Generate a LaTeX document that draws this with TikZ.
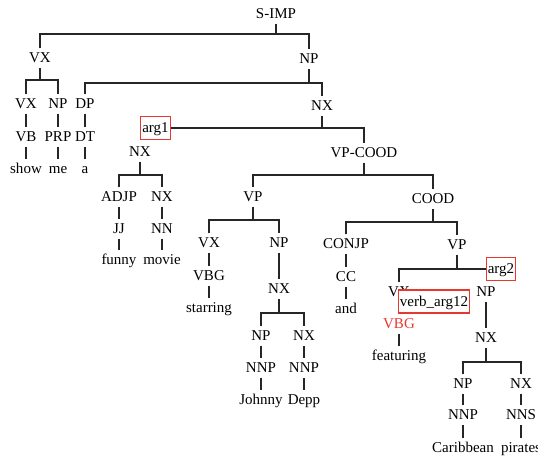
\documentclass[tikz,border=0pt]{standalone}
\usepackage{fontspec}
\setmainfont{Liberation Serif}
\definecolor{rojo}{rgb}{0.91,0.22,0.18}
\tikzset{
  cat/.style={
    inner xsep=1pt,
    inner ysep=3pt,
    text height=11pt,
    text depth=2pt,
    font=\fontsize{15}{18}\selectfont
  },
  marca/.style={
    cat,
    draw=rojo,
    line width=1.1pt,
    fill=white,
    inner xsep=1.5pt,
    minimum height=23pt
  },
  rama/.style={
    line width=1.1pt,
    black!85
  }
}
% padre, hijo izquierdo, hijo derecho, altura de la barra
\newcommand\bifurca[4]{%
  \draw[rama] (#1.south) -- (#1.south |- 0,#4);
  \draw[rama] (#2.north) |- (#3.north |- 0,#4) -- (#3.north);
}

\begin{document}
\begin{tikzpicture}[x=1pt,y=-1pt]
\useasboundingbox (0,0) rectangle (538,462);
% raiz
\node[cat] (simp) at (276,14) {S-IMP};
\node[cat] (vxa) at (40,58) {VX};
\node[cat] (npa) at (309,59) {NP};
% show me a
\node[cat] (vxb) at (26,104) {VX};
\node[cat] (npb) at (58,104) {NP};
\node[cat] (dpa) at (85,104) {DP};
\node[cat] (vb) at (26,137) {VB};
\node[cat] (prp) at (58,137) {PRP};
\node[cat] (dt) at (85,137) {DT};
\node[cat] (show) at (26,169) {show};
\node[cat] (me) at (58,169) {me};
\node[cat] (a) at (85,169) {a};
\node[cat] (nxa) at (322,106) {NX};
% funny movie
\node[cat] (nxb) at (140,152) {NX};
\node[cat] (adjp) at (119,197) {ADJP};
\node[cat] (nxc) at (162,197) {NX};
\node[cat] (jj) at (119,229) {JJ};
\node[cat] (nn) at (162,229) {NN};
\node[cat] (funny) at (119,260) {funny};
\node[cat] (movie) at (162,260) {movie};
% starring Johnny Depp
\node[cat] (vpc) at (364,153) {VP-COOD};
\node[cat] (vpa) at (253,197) {VP};
\node[cat] (cood) at (433,199) {COOD};
\node[cat] (vxd) at (209,243) {VX};
\node[cat] (npc) at (279,243) {NP};
\node[cat] (vbg) at (209,276) {VBG};
\node[cat] (starring) at (209,308) {starring};
\node[cat] (nxd) at (279,289) {NX};
\node[cat] (npd) at (261,336) {NP};
\node[cat] (nxe) at (304,336) {NX};
\node[cat] (nnpa) at (261,368) {NNP};
\node[cat] (nnpb) at (304,368) {NNP};
\node[cat] (johnny) at (261,400) {Johnny};
\node[cat] (depp) at (304,400) {Depp};
% and featuring Caribbean pirates
\node[cat] (conjp) at (346,244) {CONJP};
\node[cat] (cc) at (346,277) {CC};
\node[cat] (and) at (346,309) {and};
\node[cat] (vpb) at (457,245) {VP};
\node[cat] (vxe) at (399,292) {VX};
\node[cat,text=rojo] (vbgb) at (399,324) {VBG};
\node[cat] (featuring) at (399,356) {featuring};
\node[cat] (npe) at (486,292) {NP};
\node[cat] (nxf) at (486,338) {NX};
\node[cat] (npf) at (463,384) {NP};
\node[cat] (nxg) at (521,384) {NX};
\node[cat] (nnpc) at (463,415) {NNP};
\node[cat] (nns) at (521,415) {NNS};
\node[cat] (caribbean) at (463,448) {Caribbean};
\node[cat] (pirates) at (521,448) {pirates};

\bifurca{simp}{vxa}{npa}{34}
\bifurca{vxa}{vxb}{npb}{80}
\bifurca{npa}{dpa}{nxa}{83}
\bifurca{nxb}{adjp}{nxc}{175}
\bifurca{vpc}{vpa}{cood}{175}
\bifurca{vpa}{vxd}{npc}{220}
\bifurca{cood}{conjp}{vpb}{222}
\bifurca{nxd}{npd}{nxe}{313}
\bifurca{nxf}{npf}{nxg}{362}

\foreach \i/\j in {vxb/vb,vb/show,npb/prp,prp/me,dpa/dt,dt/a,
  adjp/jj,jj/funny,nxc/nn,nn/movie,vxd/vbg,vbg/starring,npc/nxd,
  npd/nnpa,nnpa/johnny,nxe/nnpb,nnpb/depp,conjp/cc,cc/and,
  vbgb/featuring,npe/nxf,npf/nnpc,nnpc/caribbean,nxg/nns,nns/pirates}
  \draw[rama] (\i) -- (\j);

% etiquetas en rojo
\node[marca] (arg1) at (155.5,128) {arg1};
\draw[rama] (nxa.south) -- (nxa.south |- 0,128);
\draw[rama] (arg1.east) -| (vpc.north);
\node[marca] (arg2) at (501,269) {arg2};
\draw[rama] (vpb.south) -- (vpb.south |- 0,269);
\draw[rama] (vxe.north) |- (arg2.west);
\node[marca] (verb) at (434,301.5) {verb\_arg12};
\end{tikzpicture}
\end{document}
